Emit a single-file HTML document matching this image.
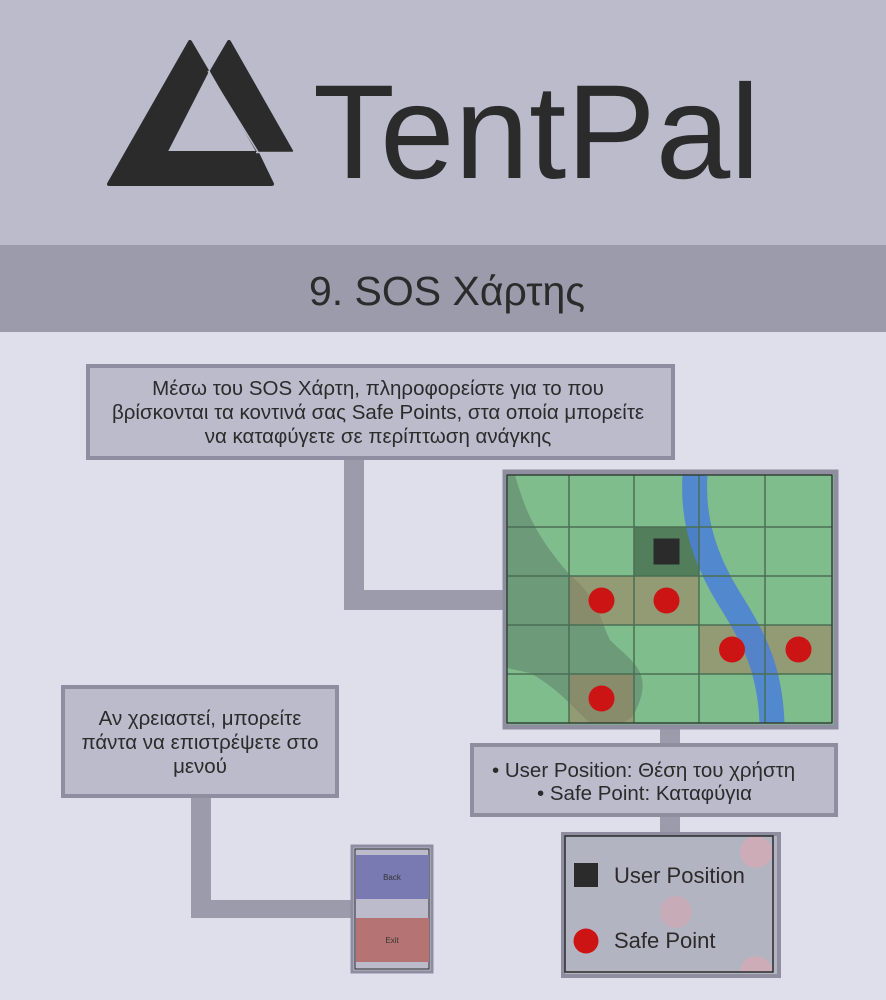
<!DOCTYPE html>
<html><head><meta charset="utf-8"><style>
html,body{margin:0;padding:0;width:886px;height:1000px;overflow:hidden;background:#dfdeeb;font-family:"Liberation Sans","DejaVu Sans",sans-serif;}
</style></head><body>
<svg width="886" height="1000" viewBox="0 0 886 1000" xmlns="http://www.w3.org/2000/svg">
<defs><clipPath id="lgclip"><rect x="565" y="836" width="208" height="136"/></clipPath></defs>
<rect x="0" y="0" width="886" height="245" fill="#bbbbcc"/>
<g fill="#2b2b2b" stroke="#2b2b2b" stroke-width="4" stroke-linejoin="round">
<polygon points="190,42 207,71 165,153 257,153 272,184 109,184"/>
<polygon points="229,42 291,151 258,151 212,71"/>
</g>
<line x1="256" y1="152.5" x2="296" y2="152.5" stroke="#bbbbcc" stroke-width="1.5"/>
<line x1="208" y1="71" x2="258" y2="152" stroke="#bbbbcc" stroke-width="1.5"/>
<text x="313" y="178" font-size="134" fill="#2b2b2b" textLength="447" lengthAdjust="spacingAndGlyphs">TentPal</text>
<rect x="0" y="245" width="886" height="87" fill="#9b9bab"/>
<text x="447" y="305" font-size="41" fill="#2b2b2b" text-anchor="middle">9. SOS Χάρτης</text>

<g fill="#9b9bab">
<rect x="344" y="458" width="20" height="152"/>
<rect x="344" y="590" width="162" height="20"/>
<rect x="660" y="728" width="20" height="18"/>
<rect x="660" y="815" width="20" height="20"/>
<rect x="191" y="796" width="20" height="122"/>
<rect x="191" y="900" width="162" height="18"/>
</g>

<rect x="88" y="366" width="585" height="92" fill="#bbbbcc" stroke="#8e8ea0" stroke-width="4"/>
<g font-size="20.5" fill="#2b2b2b" text-anchor="middle">
<text x="378" y="395">Μέσω του SOS Χάρτη, πληροφορείστε για το που</text>
<text x="378" y="419">βρίσκονται τα κοντινά σας Safe Points, στα οποία μπορείτε</text>
<text x="378" y="443">να καταφύγετε σε περίπτωση ανάγκης</text>
</g>

<rect x="63" y="687" width="274" height="109" fill="#bbbbcc" stroke="#8e8ea0" stroke-width="4"/>
<g font-size="20.5" fill="#2b2b2b" text-anchor="middle">
<text x="200" y="725">Αν χρειαστεί, μπορείτε</text>
<text x="200" y="749">πάντα να επιστρέψετε στο</text>
<text x="200" y="773">μενού</text>
</g>

<g id="map"></g>

<rect x="472" y="745" width="364" height="70" fill="#bbbbcc" stroke="#8e8ea0" stroke-width="4"/>
<g font-size="20.5" fill="#2b2b2b">
<text x="492" y="777">•  User Position: Θέση του χρήστη</text>
<text x="537" y="800">•  Safe Point: Καταφύγια</text>
</g>

<g>
<rect x="563" y="834" width="216" height="142" fill="#b3b4c2" stroke="#8e8ea0" stroke-width="4"/>
<g clip-path="url(#lgclip)">
<circle cx="756" cy="852" r="16" fill="#d8a8b4" fill-opacity="0.7"/>
<circle cx="676" cy="912" r="16" fill="#d0a8b4" fill-opacity="0.7"/>
<circle cx="756" cy="972" r="16" fill="#d8a8b4" fill-opacity="0.7"/>
</g>
<rect x="565" y="836" width="208" height="136" fill="none" stroke="#2b2b2b" stroke-width="1.5"/>
<rect x="574" y="863" width="24" height="24" fill="#2b2b2b"/>
<text x="614" y="883" font-size="22" fill="#2b2b2b">User Position</text>
<circle cx="586" cy="941" r="12.5" fill="#cc1414"/>
<text x="614" y="948" font-size="22" fill="#2b2b2b">Safe Point</text>
</g>

<g>
<rect x="352" y="846" width="80" height="126" fill="#bbbbcc" stroke="#8e8ea0" stroke-width="3"/>
<rect x="355" y="849" width="74" height="120" fill="none" stroke="#2b2b2b" stroke-width="1"/>
<rect x="356" y="855" width="73" height="44" fill="#7a7ab2"/>
<text x="392" y="880" font-size="8" fill="#333" text-anchor="middle">Back</text>
<rect x="356" y="918" width="73" height="44" fill="#b57473"/>
<text x="392" y="943" font-size="8" fill="#333" text-anchor="middle">Exit</text>
</g>
</svg>
<script>
const colEdges = [507, 569, 634, 699, 765, 832];
const rowEdges = [475, 527, 576, 625, 674, 723];
const safeCols = [1, 2, 3, 4, 1];
const safeRows = [2, 2, 3, 3, 4];
const userCol = [2];
const userRow = [1];
const NS = "http://www.w3.org/2000/svg";
const map = document.getElementById('map');
function mk(tag, attrs){const e=document.createElementNS(NS,tag);for(const k in attrs)e.setAttribute(k,attrs[k]);map.appendChild(e);return e;}
function cx(c){return (colEdges[c]+colEdges[c+1])/2;}
function cy(r){return (rowEdges[r]+rowEdges[r+1])/2;}
let fr = mk('rect',{x:505,y:472,width:331,height:255,fill:'#80bd8c',stroke:'#8e8ea0','stroke-width':5});


let dark = mk('path',{d:'M507,475 L515,475 C525,510 535,535 570,575 C600,600 600,620 610,640 C630,660 650,670 640,700 C635,715 630,723 615,723 L590,723 C570,705 560,690 530,673 L507,668 Z',fill:'#5a7a66','fill-opacity':0.5});


for(let i=0;i<userCol.length;i++){
  let c=mk('rect',{x:colEdges[userCol[i]],y:rowEdges[userRow[i]],width:colEdges[userCol[i]+1]-colEdges[userCol[i]],height:rowEdges[userRow[i]+1]-rowEdges[userRow[i]],fill:'#2b4a35','fill-opacity':0.55});
  
  
}
for(let i=0;i<safeCols.length;i++){
  let c=mk('rect',{x:colEdges[safeCols[i]],y:rowEdges[safeRows[i]],width:colEdges[safeCols[i]+1]-colEdges[safeCols[i]],height:rowEdges[safeRows[i]+1]-rowEdges[safeRows[i]],fill:'#a08060','fill-opacity':0.55});
  
  
}
let river = mk('path',{d:'M695,475 C692,520 705,560 730,600 C755,640 770,670 772,723',fill:'none',stroke:'#4a7fd8','stroke-opacity':0.85,'stroke-width':25});


for(const x of colEdges){let l=mk('line',{x1:x,y1:475,x2:x,y2:723,stroke:'#4a6e55','stroke-width':1.5});}
for(const y of rowEdges){let l=mk('line',{x1:507,y1:y,x2:832,y2:y,stroke:'#4a6e55','stroke-width':1.5});}
let bd = mk('rect',{x:507,y:475,width:325,height:248,fill:'none',stroke:'#2b2b2b','stroke-width':1});


for(let i=0;i<userCol.length;i++){
  let u=mk('rect',{x:cx(userCol[i])-13,y:cy(userRow[i])-13,width:26,height:26,fill:'#2b2b2b'});
  
  
}
for(let i=0;i<safeCols.length;i++){
  let p=mk('circle',{cx:cx(safeCols[i]),cy:cy(safeRows[i]),r:13,fill:'#cc1414'});
  
  
}
</script>
</body></html>
